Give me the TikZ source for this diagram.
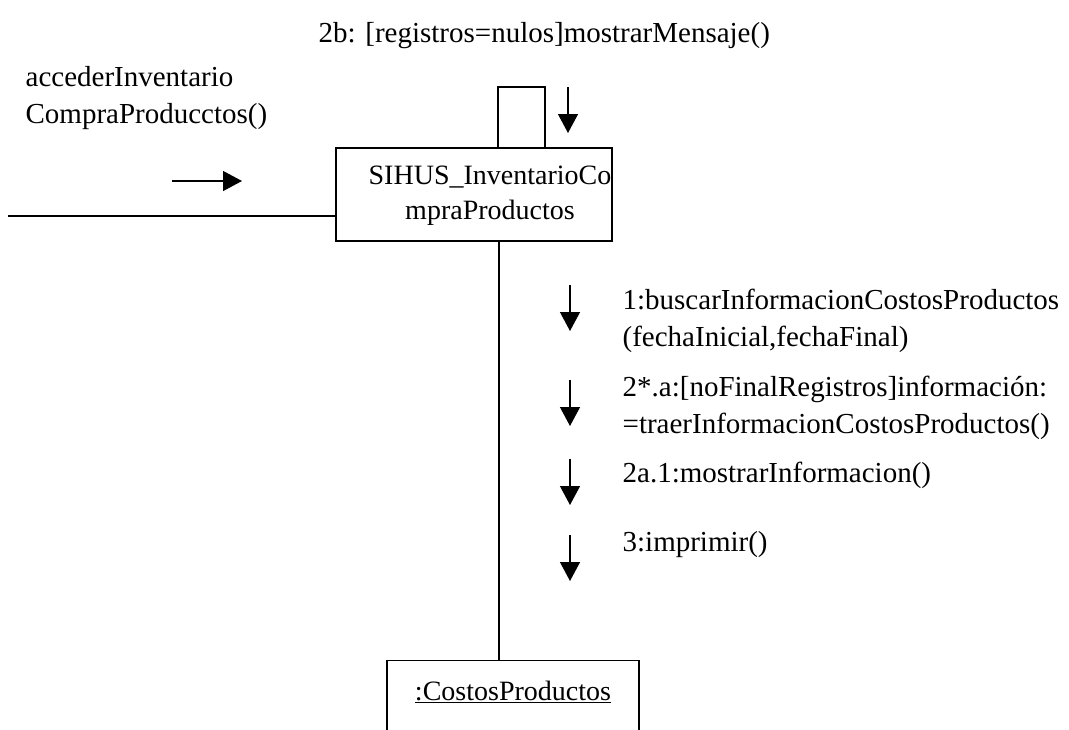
\documentclass[tikz,border=0pt]{standalone}
\usepackage{fontspec}
\setmainfont{Liberation Serif}
\usetikzlibrary{arrows.meta}

\begin{document}
\begin{tikzpicture}[x=1pt, y=-1pt, line width=1.3pt,
  objbox/.style = {draw, rectangle, inner sep=0pt},
  objtxt/.style = {align=center, inner sep=0pt, font=\fontsize{28}{35}\selectfont},
  lbl/.style = {anchor=base west, inner sep=0pt, font=\fontsize{29}{37}\selectfont},
  msg/.style = {-{Triangle[length=19pt, width=20pt]}}]
\useasboundingbox (0,0) rectangle (1069,729);

% objects
\node[objbox, minimum width=276pt, minimum height=93pt] (main) at (474,194.5) {};
\node[objtxt] (maintxt) at (490,196) {SIHUS\_InventarioCo\\mpraProductos};
\node[objbox, anchor=north, minimum width=252pt, minimum height=120pt] (costos) at (513,660) {};
\node[lbl, anchor=base, font=\fontsize{28}{35}\selectfont] (costostxt) at (513,700) {\underline{:CostosProductos}};

% links
\coordinate (ext) at (8,216);
\draw (ext) -- (ext -| main.west);
\coordinate (link) at (499,241);
\draw (link) -- (link |- costos.north);
\coordinate (loopL) at (498,148);
\coordinate (loopR) at (545,148);
\draw (loopL) -- ++(0,-61) -| (loopR);

% messages
\coordinate (in1) at (172,181); \coordinate (in2) at (242,181);
\draw[msg] (in1) -- (in2);
\node[lbl] (acc1) at (25,86) {accederInventario};
\node[lbl] (acc2) at (25,123) {CompraProducctos()};

\coordinate (s1) at (568,87); \coordinate (s2) at (568,133);
\draw[msg] (s1) -- (s2);
\node[lbl] (self) at (318,42) {2b: [registros=nulos]mostrarMensaje()};

\coordinate (a1) at (570,285); \coordinate (b1) at (570,331);
\draw[msg] (a1) -- (b1);
\node[lbl] (m1a) at (622,309) {1:buscarInformacionCostosProductos};
\node[lbl] (m1b) at (622,346) {(fechaInicial,fechaFinal)};

\coordinate (a2) at (570,380); \coordinate (b2) at (570,426);
\draw[msg] (a2) -- (b2);
\node[lbl] (m2a) at (622,396) {2*.a:[noFinalRegistros]información:};
\node[lbl] (m2b) at (622,433) {=traerInformacionCostosProductos()};

\coordinate (a3) at (570,459); \coordinate (b3) at (570,505);
\draw[msg] (a3) -- (b3);
\node[lbl] (m3) at (622,482) {2a.1:mostrarInformacion()};

\coordinate (a4) at (570,535); \coordinate (b4) at (570,581);
\draw[msg] (a4) -- (b4);
\node[lbl] (m4) at (622,551) {3:imprimir()};
\end{tikzpicture}
\end{document}
